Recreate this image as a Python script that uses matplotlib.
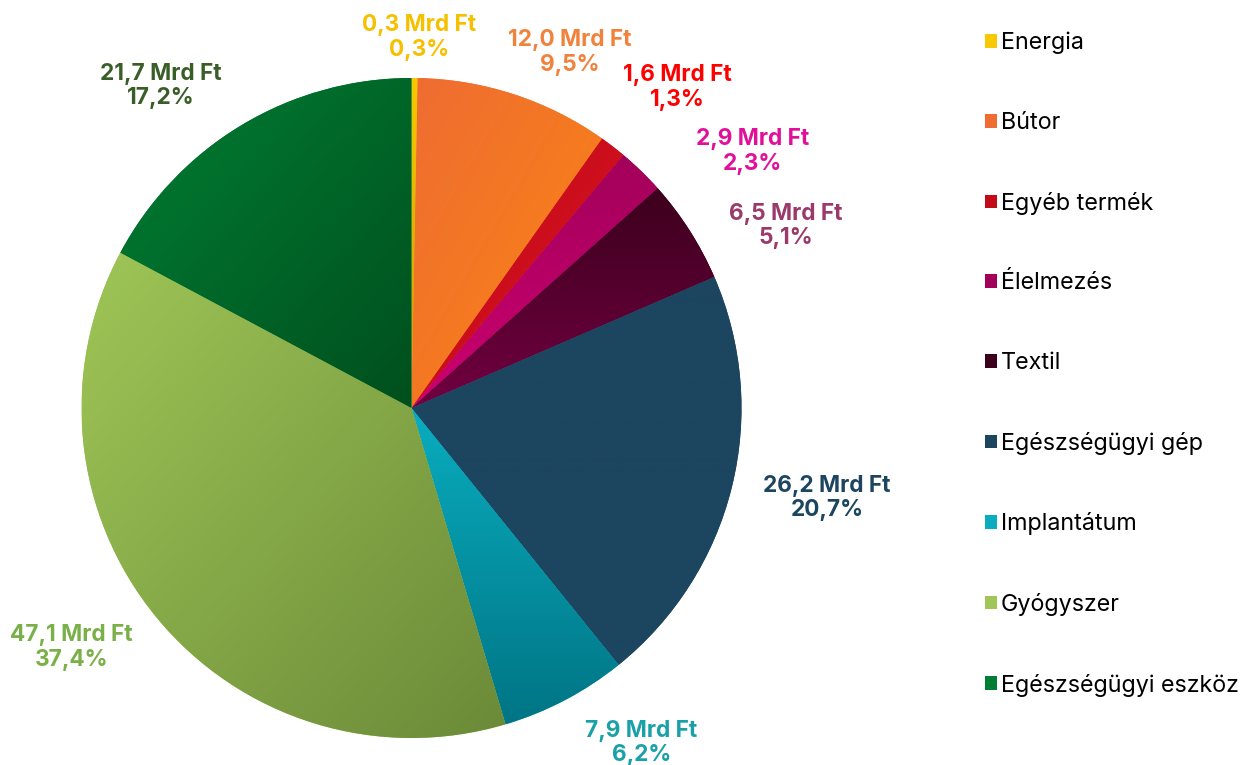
import numpy as np
import matplotlib.pyplot as plt
from matplotlib.colors import to_rgb
from matplotlib.patches import Patch

plt.rcParams['font.family'] = ['Inter', 'DejaVu Sans']

# data
categories = ['Energia', 'Bútor', 'Egyéb termék', 'Élelmezés', 'Textil',
              'Egészségügyi gép', 'Implantátum', 'Gyógyszer', 'Egészségügyi eszköz']
values_mrd = [0.3, 12.0, 1.6, 2.9, 6.5, 26.2, 7.9, 47.1, 21.7]
shares_pct = [0.3, 9.5, 1.3, 2.3, 5.1, 20.7, 6.2, 37.4, 17.2]

# slice fill: start colour, end colour, direction ('v' top->bottom, 'd' diagonal)
fills = [
    ('#F7C900', '#C49C00', 'v'),
    ('#EF6C32', '#FA8612', 'd'),
    ('#C20A18', '#D81222', 'd'),
    ('#A3005B', '#CC0070', 'v'),
    ('#3C001C', '#720042', 'v'),
    ('#1C4560', '#1C4560', 'v'),
    ('#09ADBF', '#007585', 'v'),
    ('#9FC657', '#6B8A38', 'd'),
    ('#007E34', '#004F1D', 'd'),
]
label_colors = ['#F5C000', '#F0823C', '#FF0000', '#E0109A', '#9A3A6A',
                '#1C4560', '#1AA0A8', '#7AB048', '#3A5E28']
# pixel nudges for the outside labels (dx right, dy down)
nudges = [(4, 5), (29, 1), (18, -23), (57, 13), (30, 20),
          (12, 0), (40, 3), (-20, 2), (-38, 0)]

W, H = 1248, 765
fig = plt.figure(figsize=(W / 100, H / 100), dpi=100)
ax = fig.add_axes([0, 0, 1, 1])
cx, cy, R = 411.5, H - 408, 330

wedges, _ = ax.pie(shares_pct, startangle=90, counterclock=False,
                   center=(cx, cy), radius=R,
                   colors=[f[0] for f in fills])

# gradient fill clipped to each wedge
n = 200
yy, xx = np.mgrid[0:1:n * 1j, 0:1:n * 1j]
for w, (c0, c1, mode) in zip(wedges, fills):
    ext = w.get_path().get_extents()
    t = yy if mode == 'v' else (xx + yy) / 2
    img = (1 - t)[..., None] * np.array(to_rgb(c0)) + t[..., None] * np.array(to_rgb(c1))
    im = ax.imshow(img, extent=(ext.x0, ext.x1, ext.y0, ext.y1), origin='upper',
                   interpolation='bilinear', zorder=w.get_zorder() + 0.1)
    im.set_clip_path(w)

ax.set_xlim(0, W)
ax.set_ylim(0, H)
ax.set_aspect('equal')
ax.axis('off')

# outside-end labels
renderer = fig.canvas.get_renderer()
cum = np.concatenate([[0], np.cumsum(shares_pct)]) / sum(shares_pct)
gap = 22
for i, (v, p) in enumerate(zip(values_mrd, shares_pct)):
    mid = np.deg2rad(90 - 360 * (cum[i] + cum[i + 1]) / 2)
    txt = f'{v:.1f} Mrd Ft\n{p:.1f}%'.replace('.', ',')
    t = ax.text(0, 0, txt, ha='center', va='center', fontsize=16.3,
                fontweight='bold', color=label_colors[i], linespacing=1.15)
    bb = t.get_window_extent(renderer)
    x = cx + (R + gap) * np.cos(mid) + bb.width / 2 * np.cos(mid) + nudges[i][0]
    y = cy + (R + gap) * np.sin(mid) + bb.height / 2 * np.sin(mid) - nudges[i][1]
    t.set_position((x, y))

handles = [Patch(facecolor=f[0]) for f in fills]
fig.legend(handles, categories, loc='upper left', bbox_to_anchor=(985 / W, 1 - 32 / H),
           frameon=False, fontsize=16.8, handlelength=0.52, handleheight=0.52,
           handletextpad=0.17, labelspacing=2.47, borderaxespad=0, borderpad=0)

fig.savefig('out.png', dpi=100, facecolor='white')
